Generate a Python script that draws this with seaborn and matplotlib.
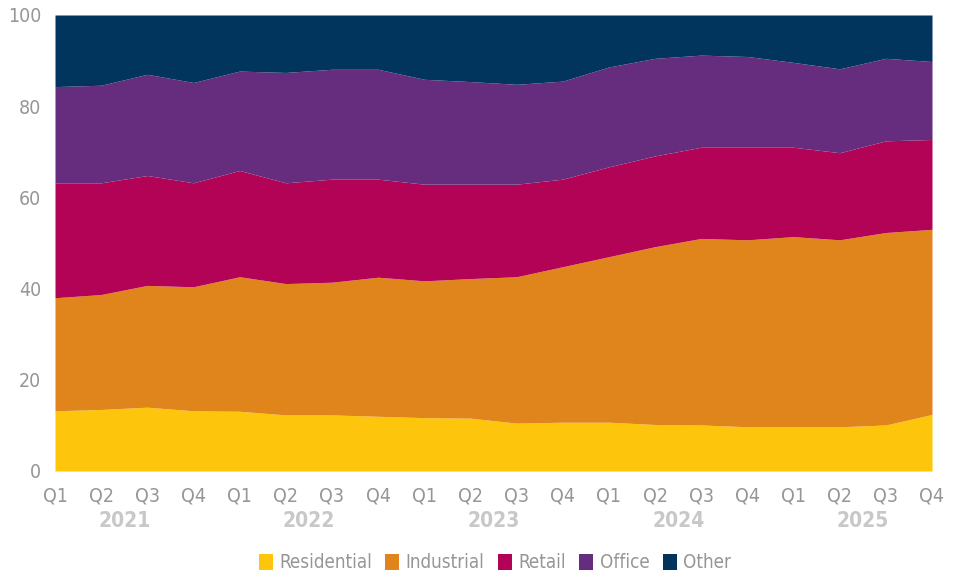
import matplotlib
matplotlib.use("Agg")
import matplotlib.pyplot as plt
from matplotlib.patches import Patch
import numpy as np
import pandas as pd
import seaborn as sns

years = ["2021", "2022", "2023", "2024", "2025"]
quarters = ["Q1", "Q2", "Q3", "Q4"]

residential = [13.2, 13.5, 14.0, 13.2, 13.1, 12.3, 12.3, 12.0, 11.7, 11.6,
               10.5, 10.7, 10.7, 10.2, 10.1, 9.7, 9.7, 9.7, 10.1, 12.4]
industrial = [24.8, 25.2, 26.7, 27.2, 29.5, 28.8, 29.1, 30.5, 30.0, 30.6,
              32.1, 34.1, 36.3, 39.0, 40.9, 41.0, 41.7, 41.0, 42.2, 40.6]
retail = [25.2, 24.5, 24.1, 22.8, 23.3, 22.1, 22.6, 21.5, 21.2, 20.7,
          20.3, 19.2, 19.7, 19.9, 20.0, 20.3, 19.6, 19.1, 20.1, 19.7]
office = [21.1, 21.4, 22.2, 22.0, 21.8, 24.2, 24.1, 24.1, 23.0, 22.5,
          21.9, 21.5, 21.9, 21.4, 20.2, 19.9, 18.6, 18.4, 18.1, 17.1]
other = [15.7, 15.4, 13.0, 14.8, 12.3, 12.6, 11.9, 11.9, 14.1, 14.6,
         15.2, 14.5, 11.4, 9.5, 8.8, 9.1, 10.4, 11.8, 9.5, 10.2]

series_names = ["Residential", "Industrial", "Retail", "Office", "Other"]
colors = ["#FDC50C", "#E0851B", "#B20357", "#662D7E", "#02355E"]

df = pd.DataFrame({
    "period": [f"{q} {y}" for y in years for q in quarters],
    "Residential": residential,
    "Industrial": industrial,
    "Retail": retail,
    "Office": office,
    "Other": other,
})

sns.set_theme(style="white")
plt.rcParams["font.family"] = ["DejaVu Sans"]
plt.rcParams["font.stretch"] = "condensed"

fig = plt.figure(figsize=(9.61, 5.72), dpi=100)
ax = fig.add_axes([55 / 961, 1 - 471 / 572, 877 / 961, 456 / 572])

x = np.arange(len(df))
ax.stackplot(x, [df[n] for n in series_names], colors=colors,
             labels=series_names, linewidth=0)

ax.set_xlim(0, len(df) - 1)
ax.set_ylim(0, 100)
ax.set_yticks(range(0, 101, 20))
ax.set_xticks(x)
ax.set_xticklabels([q for _ in years for q in quarters])

tick_color = "#969696"
ax.tick_params(axis="both", length=0, labelsize=14, colors=tick_color)
ax.tick_params(axis="x", pad=11)
ax.tick_params(axis="y", pad=10)
sns.despine(ax=ax, left=True, bottom=True)

# Year labels centred under each group of four quarters
for i, y in enumerate(years):
    ax.text(i * 4 + 1.5, -10.9, y, ha="center", va="center",
            fontsize=15, fontweight="bold", color="#C8C8C8",
            transform=ax.transData, clip_on=False)

handles = [Patch(facecolor=c, edgecolor="none", label=n)
           for n, c in zip(series_names, colors)]
leg = fig.legend(handles=handles, loc="center", bbox_to_anchor=(0.515, 1 - 563 / 572),
                 ncol=5, frameon=False, fontsize=13.5, handlelength=0.75,
                 handleheight=0.95, handletextpad=0.35, columnspacing=0.7)
for t in leg.get_texts():
    t.set_color(tick_color)

fig.savefig("out.png", dpi=100)
